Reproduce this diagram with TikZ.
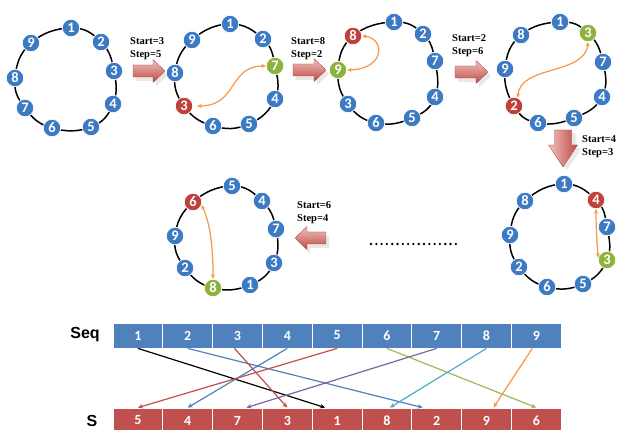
\documentclass[tikz,border=0pt]{standalone}
\usepackage{fontspec}
\newfontfamily\numfont{Carlito}
\newfontfamily\lblfont{Liberation Serif}
\newfontfamily\hdfont{Liberation Sans}
\usetikzlibrary{arrows.meta,shadows}
\definecolor{nblue}{HTML}{3D7AC4}
\definecolor{nred}{HTML}{C0403A}
\definecolor{ngreen}{HTML}{8CB43C}
\definecolor{seqblue}{HTML}{4F81BD}
\definecolor{sred}{HTML}{C0504D}
\definecolor{orng}{HTML}{F79646}
\definecolor{lgreen}{HTML}{9BBB59}
\definecolor{purp}{HTML}{8064A2}
\definecolor{cyn}{HTML}{4BACC6}
\definecolor{arrowlight}{HTML}{F2C2BE}
\definecolor{arrowdark}{HTML}{BD4A45}
\begin{document}
\begin{tikzpicture}[x=1pt,y=-1pt,
 cn/.style={circle, fill=nblue, draw=white, line width=0.7pt, minimum size=17.5pt, inner sep=0pt, text=white, font=\numfont\bfseries\fontsize{14.5}{14.5}\selectfont},
 rn/.style={cn, fill=nred},
 gn/.style={cn, fill=ngreen},
 ring/.style={line width=1.5pt, black},
 swap/.style={orng, line width=1.2pt, {Stealth[length=4.5pt,width=4pt]}-{Stealth[length=4.5pt,width=4pt]}},
 blk/.style={draw=arrowdark!85!black, line width=0.3pt, top color=arrowlight, bottom color=arrowdark, drop shadow={opacity=0.18,shadow xshift=3pt,shadow yshift=-4pt}},
 blkv/.style={draw=arrowdark!85!black, line width=0.3pt, left color=arrowlight, right color=arrowdark, drop shadow={opacity=0.18,shadow xshift=4pt,shadow yshift=-3pt}},
 lbl/.style={font=\lblfont\bfseries\fontsize{10.5}{13}\selectfont, align=left, inner sep=0pt, anchor=west},
 cell/.style={rectangle, minimum width=49.8pt, minimum height=25pt, draw=white, line width=0.8pt, text=white, inner sep=0pt, font=\numfont\bfseries\fontsize{14}{14}\selectfont},
 seqc/.style={cell, fill=seqblue},
 sc/.style={cell, fill=sred},
 cl/.style={line width=1.2pt, -{Stealth[length=5pt,width=4.5pt]}},
 hd/.style={font=\hdfont\bfseries\fontsize{16}{16}\selectfont, inner sep=0pt}
]
\path[use as bounding box, fill=white] (0,0) rectangle (622,430);

% ---------- circle 1
\draw[ring] plot[smooth cycle, tension=0.75] coordinates {(71,28) (101,42) (114,71) (113,104) (91,127) (52,128) (25,108) (15,78) (31,43)};
\node[cn] (c1n1) at (71,28) {1};
\node[cn] (c1n2) at (101,42) {2};
\node[cn] (c1n3) at (114,71) {3};
\node[cn] (c1n4) at (113,104) {4};
\node[cn] (c1n5) at (91,127) {5};
\node[cn] (c1n6) at (52,128) {6};
\node[cn] (c1n7) at (25,108) {7};
\node[cn] (c1n8) at (15,78) {8};
\node[cn] (c1n9) at (31,43) {9};

% ---------- circle 2
\draw[ring] plot[smooth cycle, tension=0.75] coordinates {(230,24) (263,39) (275,66) (275,99) (249,124) (213,126) (184,106) (175,73) (192,40)};
\node[cn] (c2n1) at (230,24) {1};
\node[cn] (c2n2) at (263,39) {2};
\node[gn] (c2n7) at (275,66) {7};
\node[cn] (c2n4) at (275,99) {4};
\node[cn] (c2n5) at (249,124) {5};
\node[cn] (c2n6) at (213,126) {6};
\node[rn] (c2n3) at (184,106) {3};
\node[cn] (c2n8) at (175,73) {8};
\node[cn] (c2n9) at (192,40) {9};
\draw[swap] (c2n7.west) .. controls (228,66) and (238,106) .. ([xshift=4pt]c2n3.east);

% ---------- circle 3
\draw[ring] plot[smooth cycle, tension=0.75] coordinates {(394,22) (423,34) (435,61) (435,97) (412,118) (376,123) (348,104) (338,70) (353,36)};
\node[cn] (c3n1) at (394,22) {1};
\node[cn] (c3n2) at (423,34) {2};
\node[cn] (c3n7) at (435,61) {7};
\node[cn] (c3n4) at (435,97) {4};
\node[cn] (c3n5) at (412,118) {5};
\node[cn] (c3n6) at (376,123) {6};
\node[cn] (c3n3) at (348,104) {3};
\node[gn] (c3n9) at (338,70) {9};
\node[rn] (c3n8) at (353,36) {8};
\draw[swap] (c3n8.east) .. controls (385,38) and (386,69) .. (c3n9.east);

% ---------- circle 4
\draw[ring] plot[smooth cycle, tension=0.75] coordinates {(560,22) (588,33) (603,62) (602,97) (574,118) (538,123) (514,106) (505,69) (521,35)};
\node[cn] (c4n1) at (560,22) {1};
\node[gn] (c4n3) at (588,33) {3};
\node[cn] (c4n7) at (603,62) {7};
\node[cn] (c4n4) at (602,97) {4};
\node[cn] (c4n5) at (574,118) {5};
\node[cn] (c4n6) at (538,123) {6};
\node[rn] (c4n2) at (514,106) {2};
\node[cn] (c4n9) at (505,69) {9};
\node[cn] (c4n8) at (521,35) {8};
\draw[swap] (c4n3.south) .. controls (585,75) and (520,65) .. (c4n2.65);

% ---------- circle 5
\draw[ring] plot[smooth cycle, tension=0.75] coordinates {(564,184) (596,200) (607,227) (607,260) (583,284) (547,287) (519,267) (510,235) (525,201)};
\node[cn] (c5n1) at (564,184) {1};
\node[rn] (c5n4) at (596,200) {4};
\node[cn] (c5n7) at (607,227) {7};
\node[gn] (c5n3) at (607,260) {3};
\node[cn] (c5n5) at (583,284) {5};
\node[cn] (c5n6) at (547,287) {6};
\node[cn] (c5n2) at (519,267) {2};
\node[cn] (c5n9) at (510,235) {9};
\node[cn] (c5n8) at (525,201) {8};
\draw[swap] (c5n4.south) .. controls (596,225) and (597,245) .. (c5n3.165);

% ---------- circle 6
\draw[ring] plot[smooth cycle, tension=0.75] coordinates {(232,186) (262,201) (276,229) (274,263) (250,285) (213,288) (185,268) (175,236) (193,202)};
\node[cn] (c6n5) at (232,186) {5};
\node[cn] (c6n4) at (262,201) {4};
\node[cn] (c6n7) at (276,229) {7};
\node[cn] (c6n3) at (274,263) {3};
\node[cn] (c6n1) at (250,285) {1};
\node[gn] (c6n8) at (213,288) {8};
\node[cn] (c6n2) at (185,268) {2};
\node[cn] (c6n9) at (175,236) {9};
\node[rn] (c6n6) at (193,202) {6};
\draw[swap] (c6n6.-20) .. controls (211,225) and (213,250) .. (c6n8.north);

% ---------- block arrows
\path[blk] (133,65) -- (153,65) -- (153,59.5) -- (165,71) -- (153,82.5) -- (153,77) -- (133,77) -- cycle;
\path[blk] (293,64) -- (314,64) -- (314,58.5) -- (326,70) -- (314,81.5) -- (314,76) -- (293,76) -- cycle;
\path[blk] (455,66) -- (476,66) -- (476,60.5) -- (488,72) -- (476,83.5) -- (476,78) -- (455,78) -- cycle;
\path[blkv] (554.5,130) -- (571.5,130) -- (571.5,145) -- (577.5,145) -- (563,167) -- (548.5,145) -- (554.5,145) -- cycle;
\path[blk] (326,232) -- (307,232) -- (307,226.5) -- (295,238) -- (307,249.5) -- (307,244) -- (326,244) -- cycle;

% ---------- labels
\node[lbl] (l1) at (130,49) {Start=3\\Step=5};
\node[lbl] (l2) at (291,48.5) {Start=8\\Step=2};
\node[lbl] (l3) at (452,45.5) {Start=2\\Step=6};
\node[lbl] (l4) at (582,147) {Start=4\\Step=3};
\node[lbl] (l5) at (297,213) {Start=6\\Step=4};

% ---------- dots
\foreach \k in {0,...,16} \fill (371+5.3*\k,244) circle[radius=1.3pt];

% ---------- table
\node[hd] (seqlbl) at (85,335) {Seq};
\node[hd] (slbl) at (92,421) {S};
\foreach \i in {1,...,9} \node[seqc] (seq\i) at (113+49.8*\i-24.9,335.5) {\i};
\foreach \i/\v in {1/5,2/4,3/7,4/3,5/1,6/8,7/2,8/9,9/6} \node[sc] (s\i) at (113+49.8*\i-24.9,420.5) {\v};

\draw[cl, black] (seq1.south) -- ([xshift=-12pt]s5.north);
\draw[cl, seqblue] (seq2.south) -- ([xshift=-14pt]s7.north);
\draw[cl, sred] ([xshift=-3pt]seq3.south) -- (s4.north);
\draw[cl, seqblue] (seq4.south) -- (s2.north);
\draw[cl, sred] (seq5.south) -- (s1.north);
\draw[cl, lgreen] (seq6.south) -- (s9.north);
\draw[cl, purp] (seq7.south) -- ([xshift=9pt]s3.north);
\draw[cl, cyn] (seq8.south) -- ([xshift=3pt]s6.north);
\draw[cl, orng] ([xshift=-4pt]seq9.south) -- ([xshift=7pt]s8.north);
\end{tikzpicture}
\end{document}
